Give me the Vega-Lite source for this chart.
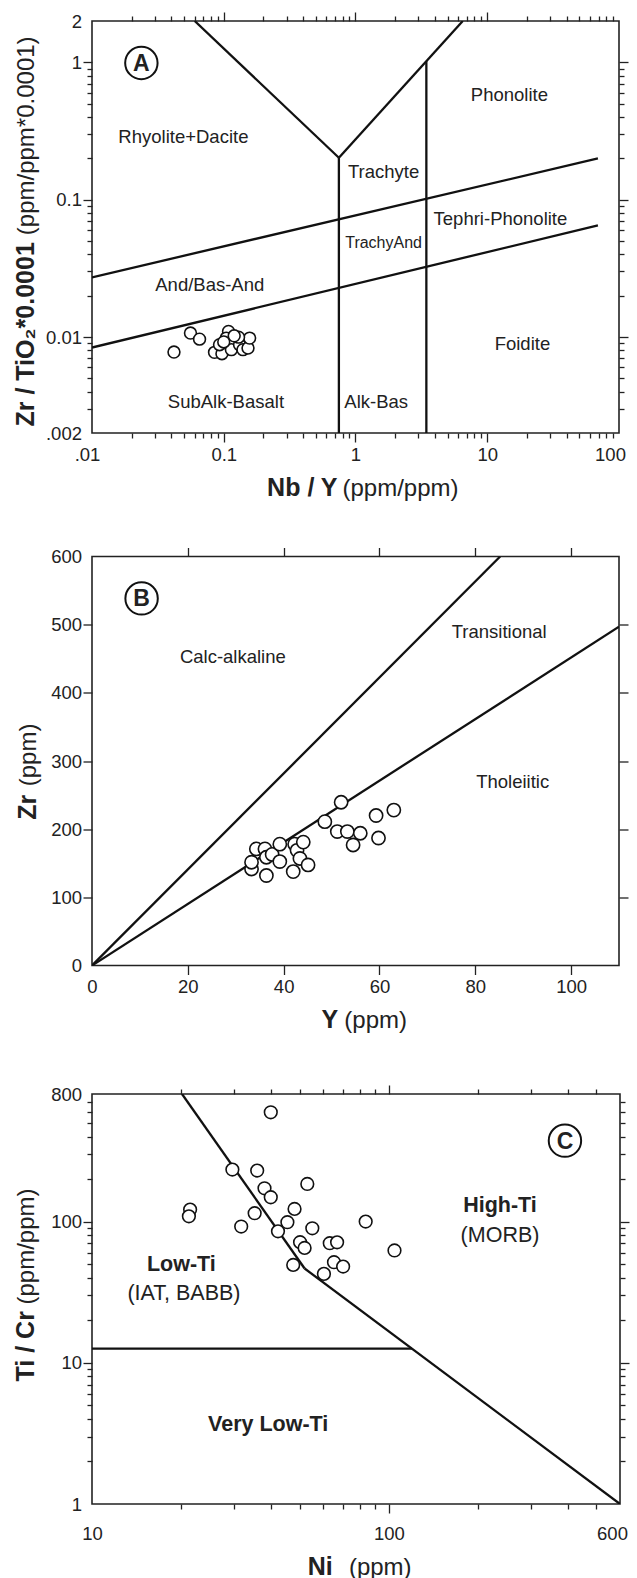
{
  "$schema": "https://vega.github.io/schema/vega-lite/v6.json",
  "padding": {"left": 12, "top": 10, "right": 0, "bottom": 0},
  "bounds": "flush",
  "spacing": 123.5,
  "datasets": {
    "ptsA": [
      {"x": 0.0419, "y": 0.00777}, {"x": 0.0559, "y": 0.01068}, {"x": 0.0655, "y": 0.00965},
      {"x": 0.0851, "y": 0.00773}, {"x": 0.0969, "y": 0.00756}, {"x": 0.0929, "y": 0.00879},
      {"x": 0.1087, "y": 0.01098}, {"x": 0.1044, "y": 0.00982}, {"x": 0.1175, "y": 0.00945},
      {"x": 0.1143, "y": 0.00809}, {"x": 0.1318, "y": 0.00879}, {"x": 0.1399, "y": 0.00809},
      {"x": 0.1528, "y": 0.0083}, {"x": 0.1572, "y": 0.00982}, {"x": 0.1295, "y": 0.00998},
      {"x": 0.1, "y": 0.0092}, {"x": 0.12, "y": 0.0102}
    ],
    "segA": [
      {"x": 0.0602, "y": 2, "x2": 0.748, "y2": 0.202},
      {"x": 0.748, "y": 0.202, "x2": 6.52, "y2": 2},
      {"x": 0.748, "y": 0.202, "x2": 0.748, "y2": 0.002},
      {"x": 3.45, "y": 1.02, "x2": 3.45, "y2": 0.002},
      {"x": 0.01, "y": 0.0272, "x2": 69.2, "y2": 0.1995},
      {"x": 0.01, "y": 0.00838, "x2": 69.2, "y2": 0.065}
    ],
    "txtA": [
      {"label": "Rhyolite+Dacite", "x": 0.0494, "y": 0.2877},
      {"label": "Phonolite", "x": 14.73, "y": 0.58},
      {"label": "Trachyte", "x": 1.634, "y": 0.1596},
      {"label": "Tephri-Phonolite", "x": 12.59, "y": 0.0719},
      {"label": "And/Bas-And", "x": 0.0783, "y": 0.02393},
      {"label": "Foidite", "x": 18.49, "y": 0.00885},
      {"label": "SubAlk-Basalt", "x": 0.1039, "y": 0.003374},
      {"label": "Alk-Bas", "x": 1.436, "y": 0.003374}
    ],
    "txtA2": [{"label": "TrachyAnd", "x": 1.634, "y": 0.0485}],
    "badgeA": [{"label": "A", "x": 0.0237, "y": 0.99}],
    "ptsB": [
      {"x": 33.3, "y": 141.6}, {"x": 33.3, "y": 151.5}, {"x": 34.3, "y": 171}, {"x": 36.1, "y": 171},
      {"x": 36.4, "y": 158.8}, {"x": 36.4, "y": 132}, {"x": 37.6, "y": 163}, {"x": 39.2, "y": 178},
      {"x": 39.2, "y": 152.5}, {"x": 42, "y": 137.8}, {"x": 42.3, "y": 178}, {"x": 42.8, "y": 169},
      {"x": 44.1, "y": 181}, {"x": 43.4, "y": 157}, {"x": 45.1, "y": 147.5}, {"x": 48.6, "y": 211},
      {"x": 52, "y": 239.5}, {"x": 51.2, "y": 196.5}, {"x": 53.3, "y": 196.5}, {"x": 54.5, "y": 176.8},
      {"x": 56, "y": 194}, {"x": 59.3, "y": 220}, {"x": 59.8, "y": 187}, {"x": 63, "y": 228}
    ],
    "segB": [
      {"x": 0, "y": 0, "x2": 85.2, "y2": 600},
      {"x": 0, "y": 0, "x2": 110, "y2": 497}
    ],
    "txtB": [
      {"label": "Calc-alkaline", "x": 29.4, "y": 451.9},
      {"label": "Transitional", "x": 85.0, "y": 489.5},
      {"label": "Tholeiitic", "x": 87.8, "y": 269.7}
    ],
    "badgeB": [{"label": "B", "x": 10.35, "y": 538.5}],
    "ptsC": [
      {"x": 40.0, "y": 594}, {"x": 29.7, "y": 233.4}, {"x": 36.0, "y": 229.6}, {"x": 38.1, "y": 172},
      {"x": 40.0, "y": 148.6}, {"x": 53.1, "y": 184.5}, {"x": 21.4, "y": 121.6}, {"x": 21.2, "y": 108.9},
      {"x": 31.8, "y": 92.2}, {"x": 35.3, "y": 114.5}, {"x": 42.3, "y": 85.3}, {"x": 45.5, "y": 98.9},
      {"x": 48.1, "y": 122.8}, {"x": 55.2, "y": 89.6}, {"x": 50.2, "y": 71.4}, {"x": 52.0, "y": 65.0},
      {"x": 47.6, "y": 49.3}, {"x": 60.4, "y": 42.6}, {"x": 63.2, "y": 70.2}, {"x": 66.9, "y": 71.3},
      {"x": 65.3, "y": 51.5}, {"x": 70.1, "y": 48.0}, {"x": 83.5, "y": 100}, {"x": 104.4, "y": 62.4}
    ],
    "segC": [
      {"x": 20.1, "y": 800, "x2": 52, "y2": 46.5},
      {"x": 52, "y": 46.5, "x2": 600, "y2": 1},
      {"x": 10, "y": 12.6, "x2": 119.5, "y2": 12.6}
    ],
    "txtCb": [
      {"label": "High-Ti", "x": 236.6, "y": 128.3},
      {"label": "Low-Ti", "x": 20.0, "y": 49.3},
      {"label": "Very Low-Ti", "x": 39.2, "y": 3.63}
    ],
    "txtCn": [
      {"label": "(MORB)", "x": 236.6, "y": 79.6},
      {"label": "(IAT, BABB)", "x": 20.4, "y": 30.7}
    ],
    "badgeC": [{"label": "C", "x": 391.5, "y": 374}]
  },
  "vconcat": [
    {
      "width": 527,
      "height": 412,
      "resolve": {"axis": {"x": "independent", "y": "independent"}},
      "layer": [
        {
          "data": {"name": "segA"},
          "mark": {"type": "rule", "stroke": "#111", "strokeWidth": 2.3, "clip": true},
          "encoding": {
            "x": {"field": "x", "type": "quantitative", "scale": {"type": "log", "domain": [0.01, 100], "nice": false},
              "axis": {"orient": "bottom", "values": [0.01, 0.1, 1, 10, 100], "labelExpr": "datum.value < 0.05 ? '.01' : datum.value < 0.5 ? '0.1' : format(datum.value, 'd')", "labelOffset": {"condition": [{"test": "datum.value > 50", "value": -9}, {"test": "datum.value < 0.05", "value": -5}], "value": 0}, "ticks": false, "labelPadding": 12, "title": "Nb / Y", "titleFontWeight": "bold", "titleFontSize": 25, "titleX": 245, "titleY": 62, "titleAlign": "right", "titleBaseline": "alphabetic"}},
            "y": {"field": "y", "type": "quantitative", "scale": {"type": "log", "domain": [0.002, 2], "nice": false},
              "axis": {"orient": "left", "values": [0.002, 0.01, 0.1, 1, 2], "labelExpr": "datum.value < 0.005 ? '.002' : datum.value < 0.05 ? '0.01' : datum.value < 0.5 ? '0.1' : format(datum.value, 'd')", "ticks": false, "labelPadding": 10.5, "title": "Zr / TiO₂*0.0001", "titleFontWeight": "bold", "titleFontSize": 25, "titleAngle": 270, "titleX": -59, "titleY": 220.7, "titleAlign": "right", "titleBaseline": "alphabetic"}},
            "x2": {"field": "x2"},
            "y2": {"field": "y2"}
          }
        },
        {
          "data": {"name": "ptsA"},
          "mark": {"type": "point", "shape": "circle", "filled": true, "fill": "white", "stroke": "#111", "strokeWidth": 1.6, "size": 140, "opacity": 1},
          "encoding": {
            "x": {"field": "x", "type": "quantitative", "scale": {"type": "log", "domain": [0.01, 100], "nice": false},
              "axis": {"orient": "bottom", "values": [0.1, 1, 10], "labels": false, "tickSize": 9, "title": null}},
            "y": {"field": "y", "type": "quantitative", "scale": {"type": "log", "domain": [0.002, 2], "nice": false},
              "axis": {"orient": "left", "values": [0.01, 0.1, 1], "labels": false, "tickSize": 9, "title": null}}
          }
        },
        {
          "data": {"name": "txtA"},
          "mark": {"type": "text", "font": "Liberation Sans", "fontSize": 18.5, "fill": "#222", "align": "center", "baseline": "middle"},
          "encoding": {
            "x": {"field": "x", "type": "quantitative", "scale": {"type": "log", "domain": [0.01, 100], "nice": false},
              "axis": {"orient": "bottom", "values": [0.02, 0.03, 0.04, 0.05, 0.06, 0.07, 0.08, 0.09, 0.2, 0.3, 0.4, 0.5, 0.6, 0.7, 0.8, 0.9, 2, 3, 4, 5, 6, 7, 8, 9, 20, 30, 40, 50, 60, 70, 80, 90], "labels": false, "tickSize": 5, "title": null}},
            "y": {"field": "y", "type": "quantitative", "scale": {"type": "log", "domain": [0.002, 2], "nice": false},
              "axis": {"orient": "left", "values": [0.003, 0.004, 0.005, 0.006, 0.007, 0.008, 0.009, 0.02, 0.03, 0.04, 0.05, 0.06, 0.07, 0.08, 0.09, 0.2, 0.3, 0.4, 0.5, 0.6, 0.7, 0.8, 0.9], "labels": false, "tickSize": 5, "title": null}},
            "text": {"field": "label"}
          }
        },
        {
          "data": {"name": "txtA2"},
          "mark": {"type": "text", "font": "Liberation Sans", "fontSize": 16, "fill": "#222", "align": "center", "baseline": "middle"},
          "encoding": {
            "x": {"field": "x", "type": "quantitative", "scale": {"type": "log", "domain": [0.01, 100], "nice": false},
              "axis": {"orient": "top", "values": [0.1, 1, 10], "labels": false, "tickSize": 9, "title": null}},
            "y": {"field": "y", "type": "quantitative", "scale": {"type": "log", "domain": [0.002, 2], "nice": false},
              "axis": {"orient": "right", "values": [0.01, 0.1, 1], "labels": false, "tickSize": 9, "title": null}},
            "text": {"field": "label"}
          }
        },
        {
          "data": {"name": "badgeA"},
          "mark": {"type": "point", "shape": "circle", "filled": false, "stroke": "#111", "strokeWidth": 2, "size": 1050, "opacity": 1},
          "encoding": {
            "x": {"field": "x", "type": "quantitative", "scale": {"type": "log", "domain": [0.01, 100], "nice": false},
              "axis": {"orient": "top", "values": [0.02, 0.03, 0.04, 0.05, 0.06, 0.07, 0.08, 0.09, 0.2, 0.3, 0.4, 0.5, 0.6, 0.7, 0.8, 0.9, 2, 3, 4, 5, 6, 7, 8, 9, 20, 30, 40, 50, 60, 70, 80, 90], "labels": false, "tickSize": 5, "title": null}},
            "y": {"field": "y", "type": "quantitative", "scale": {"type": "log", "domain": [0.002, 2], "nice": false},
              "axis": {"orient": "right", "values": [0.003, 0.004, 0.005, 0.006, 0.007, 0.008, 0.009, 0.02, 0.03, 0.04, 0.05, 0.06, 0.07, 0.08, 0.09, 0.2, 0.3, 0.4, 0.5, 0.6, 0.7, 0.8, 0.9], "labels": false, "tickSize": 5, "title": null}}
          }
        },
        {
          "data": {"name": "badgeA"},
          "mark": {"type": "text", "font": "Liberation Sans", "fontWeight": "bold", "fontSize": 23, "fill": "#222", "align": "center", "baseline": "middle", "dy": 1},
          "encoding": {
            "x": {"field": "x", "type": "quantitative", "scale": {"type": "log", "domain": [0.01, 100], "nice": false},
              "axis": {"orient": "bottom", "values": [0.01], "labels": false, "ticks": false, "title": "(ppm/ppm)", "titleFontWeight": "normal", "titleFontSize": 24, "titleX": 250, "titleY": 62, "titleAlign": "left", "titleBaseline": "alphabetic"}},
            "y": {"field": "y", "type": "quantitative", "scale": {"type": "log", "domain": [0.002, 2], "nice": false},
              "axis": {"orient": "left", "values": [0.002], "labels": false, "ticks": false, "title": "(ppm/ppm*0.0001)", "titleFontWeight": "normal", "titleFontSize": 24, "titleAngle": 270, "titleX": -59, "titleY": 213.7, "titleAlign": "left", "titleBaseline": "alphabetic"}},
            "text": {"field": "label"}
          }
        }
      ]
    },
    {
      "bounds": "flush",
      "spacing": 128.5,
      "vconcat": [
        {
          "width": 527,
          "height": 409,
          "resolve": {"axis": {"x": "independent", "y": "independent"}},
          "layer": [
            {
              "data": {"name": "segB"},
              "mark": {"type": "rule", "stroke": "#111", "strokeWidth": 2.3, "clip": true},
              "encoding": {
                "x": {"field": "x", "type": "quantitative", "scale": {"domain": [0, 110], "nice": false, "zero": false},
                  "axis": {"orient": "bottom", "values": [0, 20, 40, 60, 80, 100], "format": "d", "ticks": false, "labelPadding": 12, "title": "Y", "titleFontWeight": "bold", "titleFontSize": 25, "titleX": 245.8, "titleY": 62, "titleAlign": "right", "titleBaseline": "alphabetic"}},
                "y": {"field": "y", "type": "quantitative", "scale": {"domain": [0, 600], "nice": false, "zero": false},
                  "axis": {"orient": "left", "values": [0, 100, 200, 300, 400, 500, 600], "format": "d", "ticks": false, "labelPadding": 10.5, "title": "Zr", "titleFontWeight": "bold", "titleFontSize": 25, "titleAngle": 270, "titleX": -56.4, "titleY": 237.7, "titleAlign": "right", "titleBaseline": "alphabetic"}},
                "x2": {"field": "x2"},
                "y2": {"field": "y2"}
              }
            },
            {
              "data": {"name": "ptsB"},
              "mark": {"type": "point", "shape": "circle", "filled": true, "fill": "white", "stroke": "#111", "strokeWidth": 1.6, "size": 175, "opacity": 1},
              "encoding": {
                "x": {"field": "x", "type": "quantitative", "scale": {"domain": [0, 110], "nice": false, "zero": false},
                  "axis": {"orient": "bottom", "values": [20, 40, 60, 80, 100], "labels": false, "tickSize": 9, "title": null}},
                "y": {"field": "y", "type": "quantitative", "scale": {"domain": [0, 600], "nice": false, "zero": false},
                  "axis": {"orient": "left", "values": [100, 200, 300, 400, 500], "labels": false, "tickSize": 9, "title": null}}
              }
            },
            {
              "data": {"name": "txtB"},
              "mark": {"type": "text", "font": "Liberation Sans", "fontSize": 18.5, "fill": "#222", "align": "center", "baseline": "middle"},
              "encoding": {
                "x": {"field": "x", "type": "quantitative", "scale": {"domain": [0, 110], "nice": false, "zero": false},
                  "axis": {"orient": "top", "values": [20, 40, 60, 80, 100], "labels": false, "tickSize": 9, "title": null}},
                "y": {"field": "y", "type": "quantitative", "scale": {"domain": [0, 600], "nice": false, "zero": false},
                  "axis": {"orient": "right", "values": [100, 200, 300, 400, 500], "labels": false, "tickSize": 9, "title": null}},
                "text": {"field": "label"}
              }
            },
            {
              "data": {"name": "badgeB"},
              "mark": {"type": "point", "shape": "circle", "filled": false, "stroke": "#111", "strokeWidth": 2, "size": 1050, "opacity": 1},
              "encoding": {
                "x": {"field": "x", "type": "quantitative", "scale": {"domain": [0, 110], "nice": false, "zero": false},
                  "axis": {"orient": "bottom", "values": [0], "labels": false, "ticks": false, "title": "(ppm)", "titleFontWeight": "normal", "titleFontSize": 24, "titleX": 251.8, "titleY": 62, "titleAlign": "left", "titleBaseline": "alphabetic"}},
                "y": {"field": "y", "type": "quantitative", "scale": {"domain": [0, 600], "nice": false, "zero": false},
                  "axis": {"orient": "left", "values": [0], "labels": false, "ticks": false, "title": "(ppm)", "titleFontWeight": "normal", "titleFontSize": 24, "titleAngle": 270, "titleX": -56.4, "titleY": 229.3, "titleAlign": "left", "titleBaseline": "alphabetic"}}
              }
            },
            {
              "data": {"name": "badgeB"},
              "mark": {"type": "text", "font": "Liberation Sans", "fontWeight": "bold", "fontSize": 23, "fill": "#222", "align": "center", "baseline": "middle", "dy": 1},
              "encoding": {
                "x": {"field": "x", "type": "quantitative", "scale": {"domain": [0, 110], "nice": false, "zero": false}, "axis": null},
                "y": {"field": "y", "type": "quantitative", "scale": {"domain": [0, 600], "nice": false, "zero": false}, "axis": null},
                "text": {"field": "label"}
              }
            }
          ]
        },
        {
          "width": 528,
          "height": 410,
          "resolve": {"axis": {"x": "independent", "y": "independent"}},
          "layer": [
            {
              "data": {"name": "segC"},
              "mark": {"type": "rule", "stroke": "#111", "strokeWidth": 2.3, "clip": true},
              "encoding": {
                "x": {"field": "x", "type": "quantitative", "scale": {"type": "log", "domain": [10, 600], "nice": false},
                  "axis": {"orient": "bottom", "values": [10, 100, 600], "labelExpr": "format(datum.value, 'd')", "labelOffset": {"condition": {"test": "datum.value > 300", "value": -8}, "value": 0}, "ticks": false, "labelPadding": 20, "title": "Ni", "titleFontWeight": "bold", "titleFontSize": 25, "titleX": 240.2, "titleY": 70, "titleAlign": "right", "titleBaseline": "alphabetic"}},
                "y": {"field": "y", "type": "quantitative", "scale": {"type": "log", "domain": [1, 800], "nice": false},
                  "axis": {"orient": "left", "values": [1, 10, 100, 800], "labelExpr": "format(datum.value, 'd')", "ticks": false, "labelPadding": 10.5, "title": "Ti / Cr", "titleFontWeight": "bold", "titleFontSize": 25, "titleAngle": 270, "titleX": -58.5, "titleY": 216.6, "titleAlign": "right", "titleBaseline": "alphabetic"}},
                "x2": {"field": "x2"},
                "y2": {"field": "y2"}
              }
            },
            {
              "data": {"name": "ptsC"},
              "mark": {"type": "point", "shape": "circle", "filled": true, "fill": "white", "stroke": "#111", "strokeWidth": 1.6, "size": 160, "opacity": 1},
              "encoding": {
                "x": {"field": "x", "type": "quantitative", "scale": {"type": "log", "domain": [10, 600], "nice": false},
                  "axis": {"orient": "bottom", "values": [100], "labels": false, "tickSize": 9, "title": null}},
                "y": {"field": "y", "type": "quantitative", "scale": {"type": "log", "domain": [1, 800], "nice": false},
                  "axis": {"orient": "left", "values": [10, 100], "labels": false, "tickSize": 9, "title": null}}
              }
            },
            {
              "data": {"name": "txtCb"},
              "mark": {"type": "text", "font": "Liberation Sans", "fontWeight": "bold", "fontSize": 21.5, "fill": "#222", "align": "center", "baseline": "middle"},
              "encoding": {
                "x": {"field": "x", "type": "quantitative", "scale": {"type": "log", "domain": [10, 600], "nice": false},
                  "axis": {"orient": "bottom", "values": [20, 30, 40, 50, 60, 70, 80, 90, 200, 300, 400, 500], "labels": false, "tickSize": 5, "title": null}},
                "y": {"field": "y", "type": "quantitative", "scale": {"type": "log", "domain": [1, 800], "nice": false},
                  "axis": {"orient": "left", "values": [2, 3, 4, 5, 6, 7, 8, 9, 20, 30, 40, 50, 60, 70, 80, 90, 200, 300, 400, 500, 600, 700], "labels": false, "tickSize": 5, "title": null}},
                "text": {"field": "label"}
              }
            },
            {
              "data": {"name": "txtCn"},
              "mark": {"type": "text", "font": "Liberation Sans", "fontSize": 21.5, "fill": "#222", "align": "center", "baseline": "middle"},
              "encoding": {
                "x": {"field": "x", "type": "quantitative", "scale": {"type": "log", "domain": [10, 600], "nice": false},
                  "axis": {"orient": "top", "values": [100], "labels": false, "tickSize": 9, "title": null}},
                "y": {"field": "y", "type": "quantitative", "scale": {"type": "log", "domain": [1, 800], "nice": false},
                  "axis": {"orient": "right", "values": [10, 100], "labels": false, "tickSize": 9, "title": null}},
                "text": {"field": "label"}
              }
            },
            {
              "data": {"name": "badgeC"},
              "mark": {"type": "point", "shape": "circle", "filled": false, "stroke": "#111", "strokeWidth": 2, "size": 1050, "opacity": 1},
              "encoding": {
                "x": {"field": "x", "type": "quantitative", "scale": {"type": "log", "domain": [10, 600], "nice": false},
                  "axis": {"orient": "top", "values": [20, 30, 40, 50, 60, 70, 80, 90, 200, 300, 400, 500], "labels": false, "tickSize": 5, "title": null}},
                "y": {"field": "y", "type": "quantitative", "scale": {"type": "log", "domain": [1, 800], "nice": false},
                  "axis": {"orient": "right", "values": [2, 3, 4, 5, 6, 7, 8, 9, 20, 30, 40, 50, 60, 70, 80, 90, 200, 300, 400, 500, 600, 700], "labels": false, "tickSize": 5, "title": null}}
              }
            },
            {
              "data": {"name": "badgeC"},
              "mark": {"type": "text", "font": "Liberation Sans", "fontWeight": "bold", "fontSize": 23, "fill": "#222", "align": "center", "baseline": "middle", "dy": 1},
              "encoding": {
                "x": {"field": "x", "type": "quantitative", "scale": {"type": "log", "domain": [10, 600], "nice": false},
                  "axis": {"orient": "bottom", "values": [10], "labels": false, "ticks": false, "title": "(ppm)", "titleFontWeight": "normal", "titleFontSize": 24, "titleX": 256.4, "titleY": 70, "titleAlign": "left", "titleBaseline": "alphabetic"}},
                "y": {"field": "y", "type": "quantitative", "scale": {"type": "log", "domain": [1, 800], "nice": false},
                  "axis": {"orient": "left", "values": [1], "labels": false, "ticks": false, "title": "(ppm/ppm)", "titleFontWeight": "normal", "titleFontSize": 24, "titleAngle": 270, "titleX": -58.5, "titleY": 210, "titleAlign": "left", "titleBaseline": "alphabetic"}},
                "text": {"field": "label"}
              }
            }
          ]
        }
      ]
    }
  ],
  "config": {
    "font": "Liberation Sans",
    "background": "white",
    "view": {"stroke": "#222", "strokeWidth": 1.6},
    "axis": {
      "domain": false,
      "grid": false,
      "labelFont": "Liberation Sans",
      "labelFontSize": 18.5,
      "labelColor": "#222",
      "labelFlush": false,
      "labelOverlap": false,
      "labelBound": false,
      "tickColor": "#222",
      "tickWidth": 1.3,
      "titleFont": "Liberation Sans",
      "titleColor": "#222"
    }
  }
}
